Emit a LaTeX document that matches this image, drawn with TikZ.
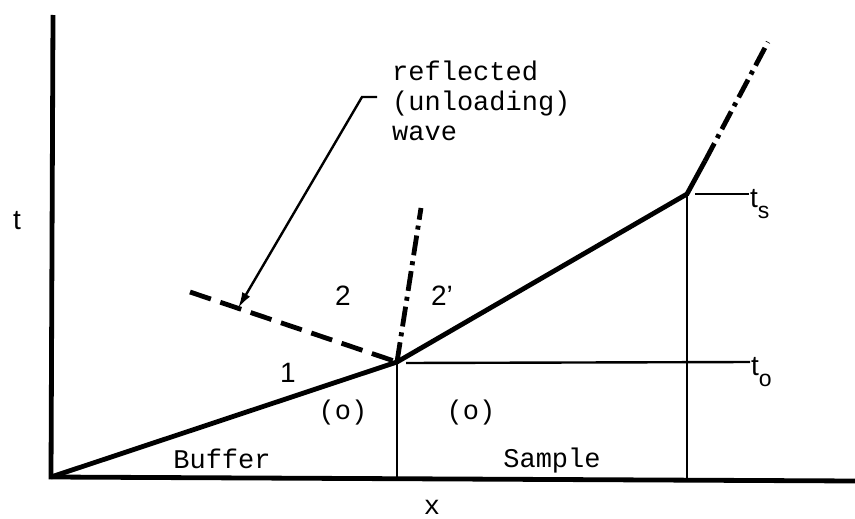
\documentclass[tikz,border=0pt]{standalone}
\usepackage{fontspec}
\setmonofont{Liberation Mono}
\setsansfont{Liberation Sans}
\usetikzlibrary{arrows.meta,calc}
\begin{document}
\begin{tikzpicture}[x=1pt,y=-1pt,
  heavy/.style={line width=4.8pt},
  light/.style={line width=2.4pt},
  dashdot/.style={heavy, dash pattern=on 20pt off 6pt on 4pt off 6pt},
  lbl/.style={inner sep=1pt, font=\fontsize{28}{32}\selectfont\sffamily},
  word/.style={inner sep=1pt, align=left, font=\fontsize{27}{30}\selectfont\ttfamily}]
\useasboundingbox (0,0) rectangle (855,519);
% axes
\coordinate (o) at (51,477);
\coordinate (top) at (53,15);
\coordinate (xend) at (855,481);
\draw[heavy] (top) -- (o) -- (xend);
% wave fronts
\coordinate (p) at (397,362);
\coordinate (s) at (687,194);
\coordinate (sk) at (705,161);
\coordinate (sup) at (768,42);
\coordinate (pup) at (421,208);
\coordinate (w) at (190,292);
\draw[heavy] (o) -- (p) -- (s) -- (sk);
\draw[dashdot] (sk) -- (sup);
\draw[dashdot] (p) -- (pup);
\draw[heavy, dash pattern=on 22pt off 10pt] (w) -- (p);
% interfaces
\draw[light] (p) -- (p |- o);
\draw[light] (s) -- (s |- xend);
% time marks
\node[lbl, anchor=base west] (tsl) at (749,207) {t\raisebox{-0.42em}{\fontsize{23}{23}\selectfont s}};
\node[lbl, anchor=base west] (tol) at (750,375) {t\raisebox{-0.42em}{\fontsize{23}{23}\selectfont o}};
\draw[light] ($(s)+(8,0)$) -- (tsl.west |- s);
\draw[light] ($(p)+(9,1)$) -- (tol.west |- p);
% reflected wave note
\node[word, anchor=north west] (note) at (391,60) {reflected\\(unloading)\\wave};
\coordinate (hook) at (377,97);
\coordinate (bend) at (362,97);
\coordinate (hit) at ($(w)!0.232!(p)$);
\draw[light, -{Latex[length=16pt,width=9pt]}] (hook) -- (bend) -- (hit);
% labels
\node[lbl] (tlab) at (17,221) {t};
\node[word] (xlab) at (432,507) {x};
\node[lbl] (one) at (288,373) {1};
\node[lbl] (two) at (343,296) {2};
\node[lbl] (twop) at (442,296) {2'};
\node[word] (ob) at (343,413) {(o)};
\node[word] (os) at (471,413) {(o)};
\node[word] (buf) at (222,459) {Buffer};
\node[word] (smp) at (552,461) {Sample};
\end{tikzpicture}
\end{document}
